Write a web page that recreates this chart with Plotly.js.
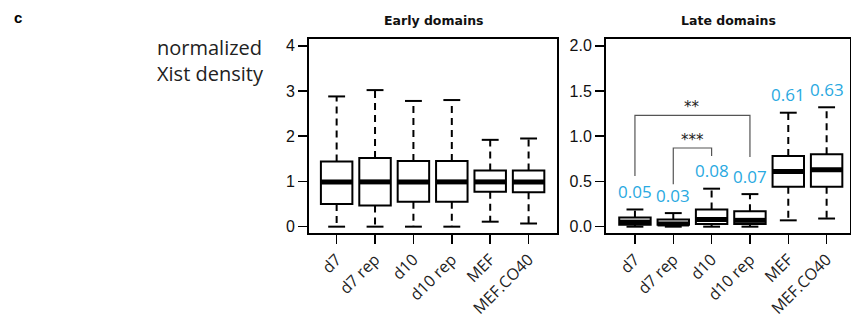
<!DOCTYPE html>
<html>
<head>
<meta charset="utf-8">
<script src="https://cdn.plot.ly/plotly-3.0.1.min.js"></script>
<style>html,body{margin:0;padding:0;background:#fff;}#chart{width:851px;height:322px;}</style>
</head>
<body>
<div id="chart"></div>
<script>
// ---- data ----
var categories = ["d7", "d7 rep", "d10", "d10 rep", "MEF", "MEF.CO40"];

// Early domains
var earlyLower  = [0.00, 0.00, 0.00, 0.00, 0.11, 0.07];
var earlyQ1     = [0.50, 0.47, 0.55, 0.55, 0.77, 0.76];
var earlyMedian = [0.99, 0.99, 0.99, 0.99, 0.99, 0.99];
var earlyQ3     = [1.44, 1.52, 1.45, 1.45, 1.24, 1.24];
var earlyUpper  = [2.88, 3.02, 2.78, 2.80, 1.92, 1.95];

// Late domains
var lateLower  = [0.00, 0.00, 0.00, 0.00, 0.07, 0.09];
var lateQ1     = [0.02, 0.02, 0.03, 0.03, 0.44, 0.44];
var lateMedian = [0.05, 0.03, 0.08, 0.07, 0.61, 0.63];
var lateQ3     = [0.10, 0.08, 0.19, 0.17, 0.78, 0.80];
var lateUpper  = [0.19, 0.15, 0.42, 0.36, 1.26, 1.32];
var lateLabels = ["0.05", "0.03", "0.08", "0.07", "0.61", "0.63"];

// significance brackets (late domains): from index, to index, bar height, left leg end, right leg end, label
var bracketFrom  = [0, 1];
var bracketTo    = [3, 2];
var bracketTop   = [1.23, 0.87];
var bracketLeft  = [0.56, 0.47];
var bracketRight = [0.77, 0.78];
var bracketText  = ["**", "***"];

// ---- drawing ----
var BOXW = 0.82, CAPW = 0.22, MEDW = 0.41;
var traces = [];
function panel(lower, q1, med, q3, upper, xa, ya) {
  var xs = categories.map(function (c, i) { return i; });
  traces.push({
    type: "box", x: xs, q1: q1, median: med, q3: q3,
    lowerfence: q1, upperfence: q3, width: BOXW,
    fillcolor: "#ffffff", line: {color: "#000", width: 2},
    whiskerwidth: 0, boxpoints: false, hoverinfo: "skip",
    xaxis: xa, yaxis: ya, showlegend: false
  });
  var wx = [], wy = [], cx = [], cy = [], mx = [], my = [];
  xs.forEach(function (x, i) {
    wx.push(x, x, null, x, x, null);
    wy.push(q3[i], upper[i], null, q1[i], lower[i], null);
    cx.push(x - CAPW, x + CAPW, null, x - CAPW, x + CAPW, null);
    cy.push(upper[i], upper[i], null, lower[i], lower[i], null);
    mx.push(x - MEDW, x + MEDW, null);
    my.push(med[i], med[i], null);
  });
  traces.push({type: "scatter", mode: "lines", x: wx, y: wy, xaxis: xa, yaxis: ya,
    line: {color: "#000", width: 2, dash: "7px,5px"}, hoverinfo: "skip", showlegend: false});
  traces.push({type: "scatter", mode: "lines", x: cx, y: cy, xaxis: xa, yaxis: ya,
    line: {color: "#000", width: 2}, hoverinfo: "skip", showlegend: false});
  traces.push({type: "scatter", mode: "lines", x: mx, y: my, xaxis: xa, yaxis: ya,
    line: {color: "#000", width: 5}, hoverinfo: "skip", showlegend: false});
}
panel(earlyLower, earlyQ1, earlyMedian, earlyQ3, earlyUpper, "x", "y");
panel(lateLower, lateQ1, lateMedian, lateQ3, lateUpper, "x2", "y2");

// brackets
var bx = [], by = [];
bracketFrom.forEach(function (f, i) {
  bx.push(f, f, bracketTo[i], bracketTo[i], null);
  by.push(bracketLeft[i], bracketTop[i], bracketTop[i], bracketRight[i], null);
});
traces.push({type: "scatter", mode: "lines", x: bx, y: by, xaxis: "x2", yaxis: "y2",
  line: {color: "#555", width: 1.2}, hoverinfo: "skip", showlegend: false});

var annotations = [];
lateLabels.forEach(function (t, i) {
  annotations.push({xref: "x2", yref: "y2", x: i, y: lateUpper[i], text: t, showarrow: false,
    yanchor: "middle", yshift: 18, font: {family: "Open Sans", size: 17, color: "#29a9e1"}});
});
bracketText.forEach(function (t, i) {
  annotations.push({xref: "x2", yref: "y2", x: (bracketFrom[i] + bracketTo[i]) / 2, y: bracketTop[i],
    text: t, showarrow: false, yanchor: "bottom", yshift: -3,
    font: {family: "DejaVu Sans", size: 15, color: "#222"}});
});
annotations.push({xref: "paper", yref: "paper", x: 434 / 851, y: 1 - 20 / 322, text: "<b>Early domains</b>",
  showarrow: false, xanchor: "center", yanchor: "middle", font: {family: "DejaVu Sans", size: 12.5, color: "#111"}});
annotations.push({xref: "paper", yref: "paper", x: 728 / 851, y: 1 - 20 / 322, text: "<b>Late domains</b>",
  showarrow: false, xanchor: "center", yanchor: "middle", font: {family: "DejaVu Sans", size: 12.5, color: "#111"}});
annotations.push({xref: "paper", yref: "paper", x: 155 / 851, y: 1 - 60 / 322, text: "normalized<br>Xist density",
  showarrow: false, xanchor: "left", yanchor: "middle", align: "left",
  font: {family: "Open Sans", size: 20, color: "#222"}});
annotations.push({xref: "paper", yref: "paper", x: 12 / 851, y: 1 - 17 / 322, text: "<b>c</b>",
  showarrow: false, xanchor: "left", yanchor: "middle", font: {family: "Liberation Sans", size: 15, color: "#000"}});

var xCommon = {
  tickmode: "array", tickvals: categories.map(function (c, i) { return i; }), ticktext: categories,
  tickangle: -45, ticks: "outside", ticklen: 9, tickwidth: 1.5, tickcolor: "#000",
  showline: true, mirror: true, linecolor: "#000", linewidth: 2, showgrid: false, zeroline: false,
  tickfont: {family: "Open Sans", size: 16, color: "#222"}, fixedrange: true
};
var yCommon = {
  ticks: "outside", ticklen: 9, tickwidth: 1.5, tickcolor: "#000",
  showline: true, mirror: true, linecolor: "#000", linewidth: 2, showgrid: false, zeroline: false,
  tickfont: {family: "Liberation Sans", size: 16, color: "#111"}, fixedrange: true
};
function merge(a, b) { var o = {}; for (var k in a) o[k] = a[k]; for (var k2 in b) o[k2] = b[k2]; return o; }

var layout = {
  width: 851, height: 322, margin: {l: 0, r: 0, t: 0, b: 0},
  paper_bgcolor: "#fff", plot_bgcolor: "#fff", showlegend: false,
  xaxis: merge(xCommon, {domain: [309 / 851, 557 / 851], range: [-0.72, 5.74], anchor: "y"}),
  yaxis: merge(yCommon, {domain: [89 / 322, 283 / 322], range: [-0.14, 4.15], tickvals: [0, 1, 2, 3, 4], anchor: "x"}),
  xaxis2: merge(xCommon, {domain: [606 / 851, 850 / 851], range: [-0.755, 5.61], anchor: "y2"}),
  yaxis2: merge(yCommon, {domain: [89 / 322, 283 / 322], range: [-0.07, 2.075], tickvals: [0, 0.5, 1, 1.5, 2],
    ticktext: ["0.0", "0.5", "1.0", "1.5", "2.0"], anchor: "x2"}),
  annotations: annotations
};
Plotly.newPlot("chart", traces, layout, {displayModeBar: false, staticPlot: true});
</script>
</body>
</html>
